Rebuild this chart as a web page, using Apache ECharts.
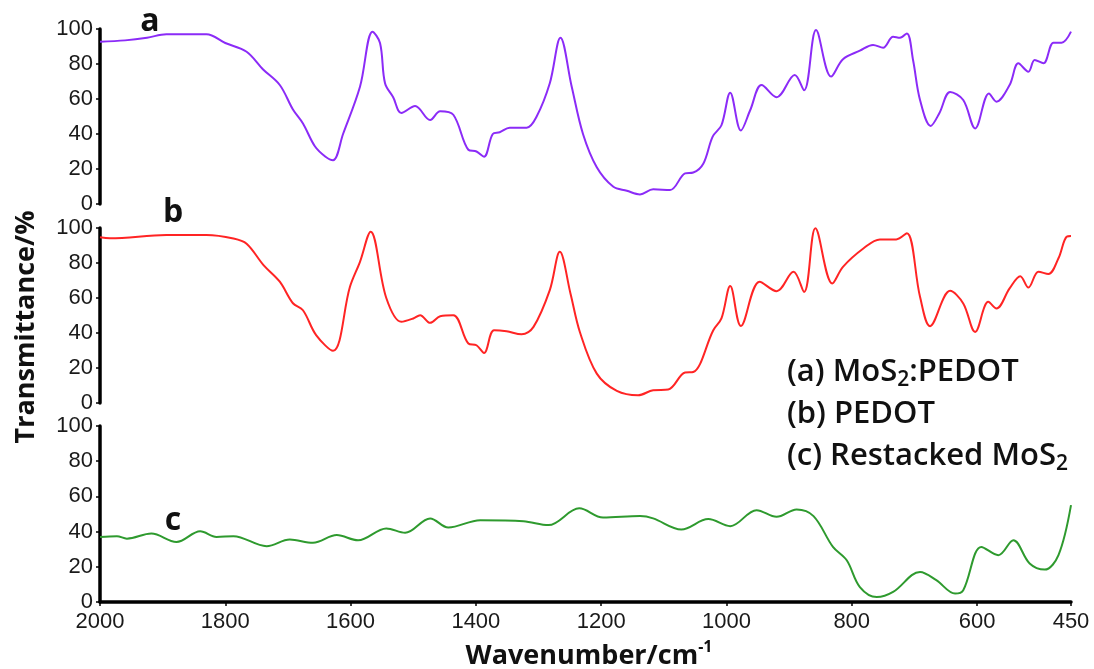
<!DOCTYPE html>
<html>
<head>
<meta charset="utf-8">
<script src="https://cdn.jsdelivr.net/npm/echarts@6/dist/echarts.min.js"></script>
<style>
  html, body { margin: 0; padding: 0; background: #fff; }
  #main { width: 1094px; height: 669px; }
</style>
</head>
<body>
<div id="main"></div>
<script>
// (a) MoS2:PEDOT
var waveA = [2000, 1960, 1925, 1894, 1830, 1800, 1766, 1740, 1713, 1692, 1676, 1657, 1640, 1628, 1612, 1585, 1565, 1553, 1545, 1532, 1519, 1497, 1473, 1457, 1436, 1412, 1399, 1387, 1373, 1362, 1346, 1319, 1303, 1282, 1265, 1247, 1229, 1207, 1181, 1159, 1138, 1117, 1090, 1066, 1053, 1037, 1022, 1008, 994, 977, 962, 944, 920, 891, 876, 857, 833, 814, 787, 766, 750, 734, 723, 712, 702, 691, 674, 660, 643, 622, 603, 581, 569, 548, 534, 518, 508, 494, 478, 465, 450]
var transA = [92.7, 93.5, 95, 97, 97, 92, 87, 77, 68, 54, 46, 33, 27, 25, 40, 67, 98.5, 92, 69, 61, 52, 56, 48, 53, 51, 31, 30, 27, 40, 41, 43.6, 43.6, 50, 69, 95, 67, 40, 21, 10, 7.6, 5.5, 8.4, 8, 17.5, 18, 23, 38.5, 45, 63.6, 42, 53.7, 68, 61, 73.7, 65, 99.4, 72.8, 82.7, 87.6, 90.9, 89.3, 95.6, 95, 97.5, 82, 59.4, 44.6, 52, 64, 59.4, 43.2, 63.2, 58.5, 68, 80.4, 75.6, 82.3, 80.4, 92.2, 92.2, 98.5]
// (b) PEDOT
var waveB = [2000, 1984, 1894, 1830, 1787, 1766, 1739, 1713, 1692, 1676, 1655, 1628, 1601, 1585, 1568, 1543, 1519, 1500, 1489, 1473, 1457, 1436, 1412, 1399, 1387, 1371, 1351, 1327, 1308, 1282, 1266, 1249, 1234, 1207, 1175, 1141, 1117, 1093, 1066, 1053, 1021, 1008, 994, 977, 947, 920, 893, 876, 858, 831, 814, 781, 755, 729, 712, 691, 675, 643, 622, 603, 582, 569, 548, 531, 518, 502, 486, 470, 457, 450]
var transB = [94.7, 94.1, 96, 96, 94, 91, 78.8, 69.3, 57, 53, 38.8, 29.8, 66.4, 80.7, 97.9, 60, 46.4, 48.3, 50.2, 45.8, 49.6, 50.2, 34, 33, 28.6, 41.6, 41, 39.3, 43.5, 64.5, 86.4, 62.6, 40.6, 16.8, 6.9, 4.4, 7.3, 7.7, 17.4, 17.7, 41.6, 48.3, 66.8, 44, 69.3, 63.9, 75, 63.5, 99.8, 68.3, 77.8, 88.4, 93.5, 93.5, 97, 60.7, 43.9, 64.1, 56.9, 40.6, 57.8, 54, 65.5, 72.5, 66, 75, 73.7, 82.7, 95, 95.4]
// (c) Restacked MoS2
var waveC = [2000, 1973, 1957, 1918, 1878, 1840, 1814, 1787, 1734, 1697, 1660, 1622, 1588, 1543, 1513, 1473, 1444, 1393, 1324, 1284, 1235, 1197, 1138, 1117, 1072, 1029, 994, 952, 920, 888, 861, 830, 808, 787, 760, 734, 691, 665, 635, 622, 593, 566, 542, 516, 492, 470, 450]
var transC = [37, 37.4, 36, 38.9, 34.1, 40.2, 37, 37.4, 31.7, 35.5, 33.6, 38, 35.1, 41.8, 39.3, 47.5, 42.3, 46.5, 45.9, 43.7, 53.2, 48, 48.8, 47.5, 41.2, 47.1, 43.1, 52.2, 48.4, 52.6, 48.8, 31.3, 23.7, 8.5, 2.8, 5.7, 17.1, 12.4, 4.8, 6.7, 31.3, 26.6, 35.1, 21.9, 18.4, 26.6, 55]

var xTicks = [2000, 1800, 1600, 1400, 1200, 1000, 800, 600, 450]
var yTicks = [0, 20, 40, 60, 80, 100]

function pairs(w, t) {
    return w.map(function(v, i) { return [v, t[i]] })
}

var myChart = echarts.init(document.getElementById('main'))

var tickFont = "'Liberation Sans', Arial, sans-serif"
var grids = [
    { left: 100, right: 23, top: 29, height: 175 },
    { left: 100, right: 23, top: 228, height: 175 },
    { left: 100, right: 23, top: 426, height: 176 }
]

var xAxes = [0, 1, 2].map(function(i) {
    var last = i == 2
    return {
        type: 'value', gridIndex: i, min: 450, max: 2000, inverse: true,
        splitLine: { show: false },
        axisLine: { show: last, onZero: false, lineStyle: { color: '#000', width: 3.5 } },
        axisTick: { show: last, length: 4, customValues: xTicks, lineStyle: { color: '#000', width: 1.5 } },
        axisLabel: {
            show: last, customValues: xTicks, margin: 9,
            formatter: function(v) { return String(v) },
            fontFamily: tickFont, fontSize: 22, color: '#1a1a1a'
        }
    }
})

var yAxes = [0, 1, 2].map(function(i) {
    return {
        type: 'value', gridIndex: i, min: yTicks[0], max: yTicks[yTicks.length - 1], interval: 20,
        splitLine: { show: false },
        axisLine: { show: true, onZero: false, lineStyle: { color: '#000', width: 3.5 } },
        axisTick: { show: true, length: 4, lineStyle: { color: '#000', width: 1.5 } },
        axisLabel: { margin: 7, fontFamily: tickFont, fontSize: 22, color: '#1a1a1a' }
    }
})

function line(i, data, color) {
    return {
        type: 'line', xAxisIndex: i, yAxisIndex: i, data: data,
        smooth: 0.35, showSymbol: false, silent: true,
        lineStyle: { color: color, width: 2 }
    }
}

var boldFont = 'Open Sans'
var legendRich = {
    sub: { fontSize: 21, lineHeight: 16, verticalAlign: 'bottom', fontFamily: boldFont, fontWeight: 600, fill: '#111' }
}

var option = {
    backgroundColor: '#fff',
    animation: false,
    grid: grids,
    xAxis: xAxes,
    yAxis: yAxes,
    series: [
        line(0, pairs(waveA, transA), '#8B2BF7'),
        line(1, pairs(waveB, transB), '#FF2424'),
        line(2, pairs(waveC, transC), '#2E9A2E')
    ],
    graphic: [
        // 曲线标注
        { type: 'text', x: 150, y: 22, style: { text: 'a', fontFamily: boldFont, fontWeight: 'bold', fontSize: 32, fill: '#111', align: 'center', verticalAlign: 'middle' } },
        { type: 'text', x: 173, y: 213, style: { text: 'b', fontFamily: boldFont, fontWeight: 'bold', fontSize: 32, fill: '#111', align: 'center', verticalAlign: 'middle' } },
        { type: 'text', x: 173, y: 521, style: { text: 'c', fontFamily: boldFont, fontWeight: 'bold', fontSize: 32, fill: '#111', align: 'center', verticalAlign: 'middle' } },
        // 轴标题
        { type: 'text', x: 26, y: 327, rotation: Math.PI / 2, style: { text: 'Transmittance/%', fontFamily: boldFont, fontWeight: 'bold', fontSize: 27, fill: '#111', align: 'center', verticalAlign: 'middle' } },
        {
            type: 'text', x: 589, y: 656,
            style: {
                text: 'Wavenumber/cm{sup|-1}', fontFamily: boldFont, fontWeight: 'bold', fontSize: 27, lineHeight: 34,
                fill: '#111', align: 'center', verticalAlign: 'middle',
                rich: { sup: { fontSize: 16, lineHeight: 16, verticalAlign: 'top', fontFamily: boldFont, fontWeight: 'bold', fill: '#111' } }
            }
        },
        // 图例
        { type: 'text', x: 787, y: 372, style: { text: '(a) MoS{sub|2}:PEDOT', fontFamily: boldFont, fontWeight: 600, fontSize: 31, lineHeight: 38, fill: '#111', verticalAlign: 'middle', rich: legendRich } },
        { type: 'text', x: 787, y: 414, style: { text: '(b) PEDOT', fontFamily: boldFont, fontWeight: 600, fontSize: 31, lineHeight: 38, fill: '#111', verticalAlign: 'middle', rich: legendRich } },
        { type: 'text', x: 787, y: 456, style: { text: '(c) Restacked MoS{sub|2}', fontFamily: boldFont, fontWeight: 600, fontSize: 31, lineHeight: 38, fill: '#111', verticalAlign: 'middle', rich: legendRich } }
    ]
}

myChart.setOption(option)
</script>
</body>
</html>
